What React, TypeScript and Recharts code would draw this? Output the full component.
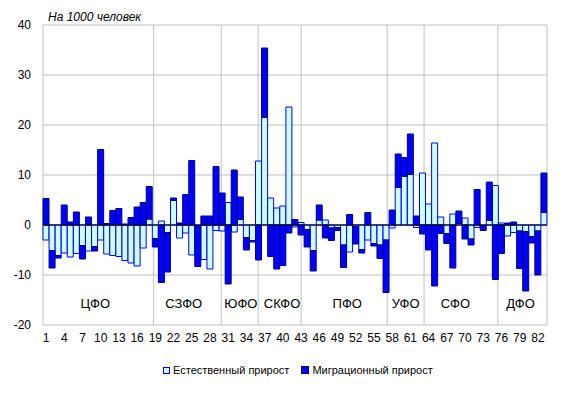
import React from "react";
import {
  BarChart,
  Bar,
  XAxis,
  YAxis,
  CartesianGrid,
  ReferenceLine,
  ReferenceArea,
  ReferenceDot,
  Legend,
} from "recharts";

const regions: string[] = Array.from({ length: 83 }, (_, i) => String(i + 1));

const naturalGrowth: number[] = [
  -3.0, -5.1, -6.1, -5.6, -6.4, -5.7, -4.1, -5.2, -4.3, -3.0,
  -5.8, -6.1, -6.3, -7.1, -7.6, -8.2, -4.6, 1.2, -2.7, 0.8,
  -1.5, 4.9, -2.6, -1.6, -6.0, -0.2, -6.9, -8.8, -1.1, -1.2,
  4.5, -1.4, 1.1, -2.5, -3.1, 12.8, 21.5, 5.4, 3.4, 3.8,
  23.6, -0.4, 0.5, -0.9, -5.1, 1.0, 1.0, -0.6, -0.5, -4.0,
  -5.4, -0.3, -4.9, -3.0, -3.7, -4.0, -3.0, -0.6, 7.5, 9.7,
  10.1, -0.5, 10.4, 4.2, 16.4, 1.6, -1.7, 2.2, 0.3, 1.4,
  -2.8, -0.5, -0.1, 0.9, 7.9, 0.4, -2.2, -1.5, -1.2, -1.3,
  -2.3, -1.2, 2.5,
];

const migrationGrowth: number[] = [
  5.3, -3.5, -0.5, 4.0, 0.6, 2.6, -2.7, 1.6, -0.9, 15.1,
  0.3, 2.9, 3.3, 0.2, 1.5, 3.6, 4.5, 6.5, -1.7, -11.5,
  -7.9, 0.5, 0.4, 6.1, 12.9, -8.1, 1.8, 1.8, 11.7, 6.4,
  -11.8, 11.0, 4.5, -2.5, -0.3, -7.0, 13.9, -6.3, -8.8, -8.1,
  -1.6, 1.1, -2.0, -3.5, -4.1, 3.0, -2.6, -2.5, -0.6, -4.5,
  2.1, -3.5, -0.7, 2.5, -0.5, -2.7, -10.5, 3.0, 6.7, 3.8,
  8.1, 1.8, -1.8, -5.0, -12.2, -1.7, -2.0, -8.6, 2.5, -2.8,
  -1.2, 7.1, -1.0, 7.7, -10.9, -5.7, 0.4, 0.6, -7.5, -11.9,
  -1.3, -8.8, 7.9,
];

const yTicks: number[] = [-20, -10, 0, 10, 20, 30, 40];

// Cumulative region counts where each federal district ends
const districtBoundaries: number[] = [18, 29, 35, 42, 56, 62, 74];

const districtNames: string[] = ["ЦФО", "СЗФО", "ЮФО", "СКФО", "ПФО", "УФО", "СФО", "ДФО"];
const districtLabelX: number[] = [8.5, 22.9, 32.2, 38.9, 49.5, 59.0, 67.1, 77.7];
const districtLabelY = -15.6;

const seriesNames = ["Естественный прирост", "Миграционный прирост"];

const data = regions.map((r, i) => ({
  label: r,
  natural: naturalGrowth[i],
  migration: migrationGrowth[i],
}));

const FONT = "'Liberation Sans', Arial, sans-serif";

const renderLegend = () => (
  <div
    style={{
      display: "flex",
      alignItems: "center",
      paddingLeft: 163,
      height: 20,
      fontFamily: FONT,
      fontSize: 11,
      color: "#000",
    }}
  >
    <span
      style={{
        display: "inline-block",
        width: 5,
        height: 5,
        border: "1px solid #0000FF",
        background: "#CCFFFF",
        marginRight: 3,
      }}
    />
    <span style={{ marginRight: 12 }}>{seriesNames[0]}</span>
    <span
      style={{
        display: "inline-block",
        width: 6,
        height: 6,
        border: "1px solid #000080",
        background: "#0000FF",
        marginRight: 3,
      }}
    />
    <span>{seriesNames[1]}</span>
  </div>
);

export default function App() {
  return (
    <div style={{ position: "absolute", left: 0, top: 0, width: 563, height: 393, background: "#fff" }}>
      <div
        style={{
          position: "absolute",
          left: 48,
          top: 10,
          fontFamily: FONT,
          fontStyle: "italic",
          fontSize: 12,
          color: "#000",
          zIndex: 2,
        }}
      >
        На 1000 человек
      </div>
      <BarChart
        width={563}
        height={393}
        data={data}
        stackOffset="sign"
        barCategoryGap={0}
        barGap={0}
        margin={{ top: 25, right: 16, bottom: 13, left: 0 }}
      >
        <XAxis
          xAxisId="grid"
          type="number"
          domain={[0, 83]}
          ticks={districtBoundaries}
          allowDataOverflow
          hide
        />
        <CartesianGrid xAxisId="grid" stroke="#C0C0C0" strokeWidth={1} />
        <XAxis
          dataKey="label"
          interval={2}
          tickLine={false}
          axisLine={false}
          height={35}
          tick={{ fontSize: 12, fill: "#000", fontFamily: FONT }}
        />
        <YAxis
          domain={[-20, 40]}
          ticks={yTicks}
          width={43}
          tickLine={false}
          axisLine={false}
          tickSize={0}
          tickMargin={12}
          allowDataOverflow
          tick={{ fontSize: 12, fill: "#000", fontFamily: FONT }}
        />
        <Legend verticalAlign="bottom" height={20} content={renderLegend} />
        <Bar
          dataKey="natural"
          name={seriesNames[0]}
          stackId="a"
          fill="#CCFFFF"
          stroke="#0000FF"
          strokeWidth={1}
          isAnimationActive={false}
        />
        <Bar
          dataKey="migration"
          name={seriesNames[1]}
          stackId="a"
          fill="#0000FF"
          stroke="#000080"
          strokeWidth={1}
          isAnimationActive={false}
        />
        <ReferenceLine y={0} stroke="#000" strokeWidth={1} />
        <ReferenceArea
          xAxisId="grid"
          x1={0}
          x2={83}
          y1={-20}
          y2={40}
          fill="none"
          stroke="#000"
          strokeWidth={1}
        />
        {districtNames.map((name, i) => (
          <ReferenceDot
            key={name}
            xAxisId="grid"
            x={districtLabelX[i]}
            y={districtLabelY}
            r={0}
            fill="none"
            stroke="none"
            label={{ value: name, position: "center", fill: "#000", fontSize: 13, fontFamily: FONT }}
          />
        ))}
      </BarChart>
    </div>
  );
}
